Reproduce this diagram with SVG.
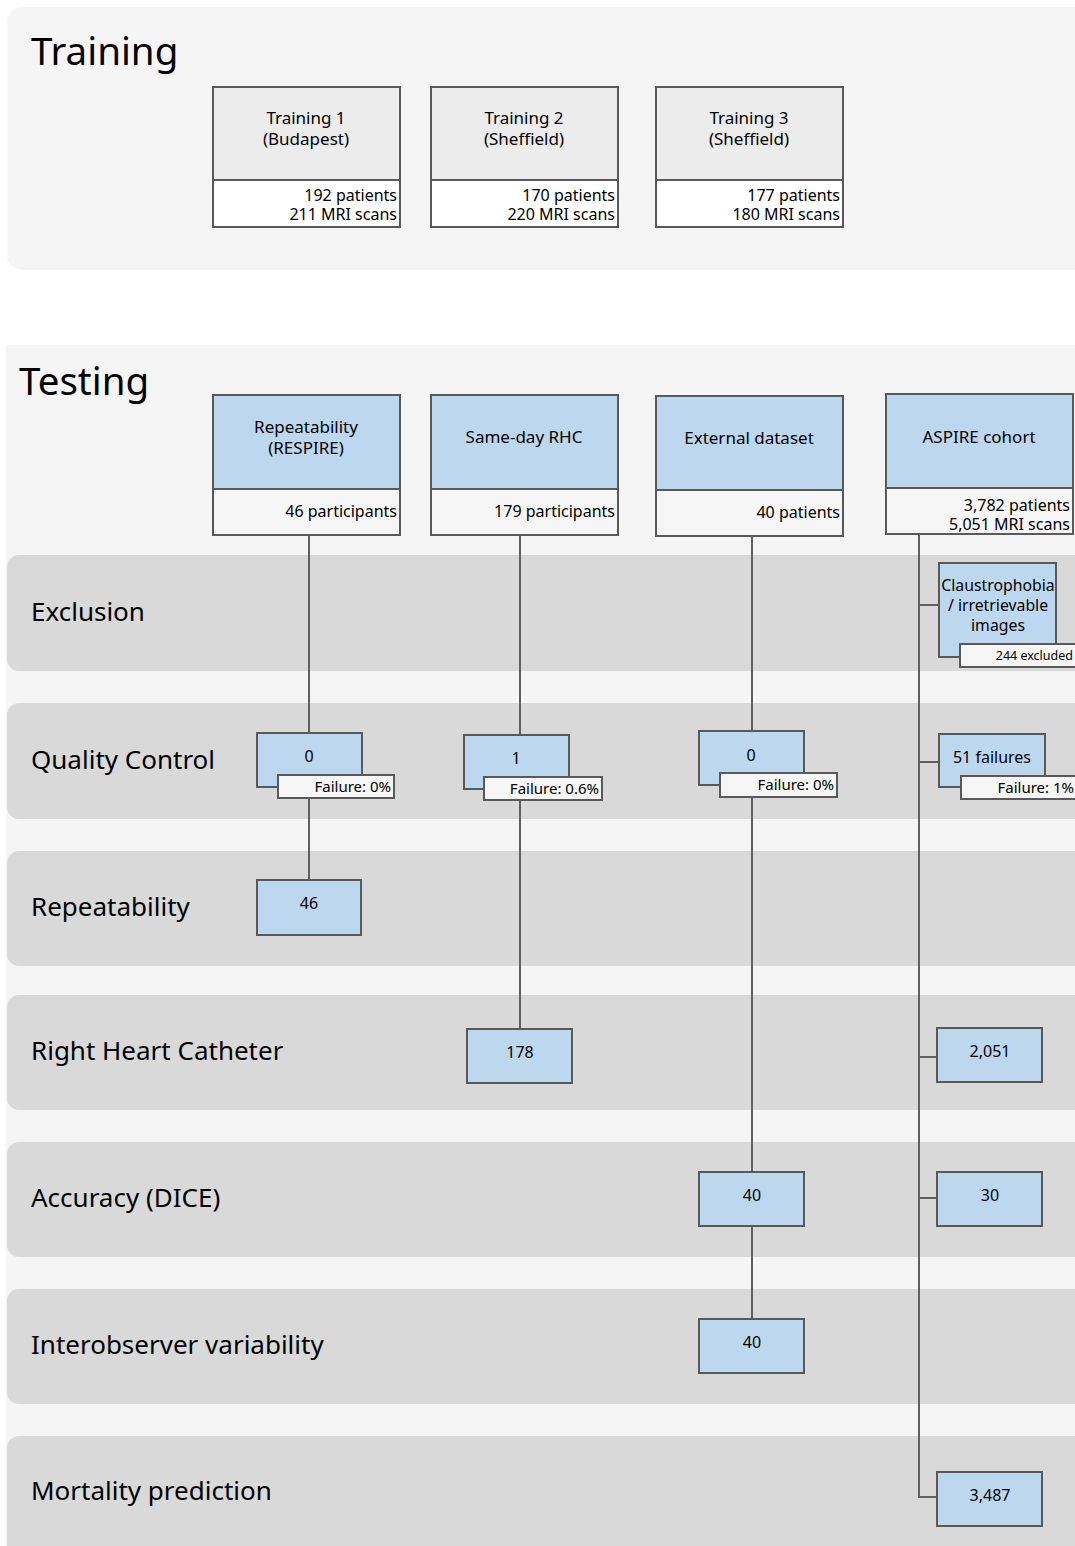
<svg xmlns="http://www.w3.org/2000/svg" width="1075" height="1546" viewBox="0 0 1075 1546">
<style>
text{font-family:"Noto Sans","Open Sans",sans-serif;fill:#000}
.panel{fill:#f5f5f5}
.band{fill:#d9d9d9}
.h1{font-size:38.5px}
.h2{font-size:26px}
.t17{font-size:17px}
.t16{font-size:16px}
.n16{font-size:16px}
.c16{font-size:15.8px}
.f15{font-size:15px}
.t13{font-size:12.5px}
.mid{text-anchor:middle}
.end{text-anchor:end}
.bx{stroke:#595959;stroke-width:2}
.grey{fill:#ececec}
.white{fill:#ffffff}
.light{fill:#f6f6f6}
.blue{fill:#bdd7ee}
.conn{fill:none;stroke:#606060;stroke-width:2}
</style>
<rect width="1075" height="1546" fill="#ffffff"/>
<g id="panels">
<rect class="panel" x="7" y="7" width="1090" height="263" rx="15"/>
<rect class="panel" x="6" y="345" width="1090" height="1220"/>
<rect class="band" x="7" y="555" width="1090" height="116" rx="12"/>
<rect class="band" x="7" y="703" width="1090" height="116" rx="12"/>
<rect class="band" x="7" y="851" width="1090" height="115" rx="12"/>
<rect class="band" x="7" y="995" width="1090" height="115" rx="12"/>
<rect class="band" x="7" y="1142" width="1090" height="115" rx="12"/>
<rect class="band" x="7" y="1289" width="1090" height="115" rx="12"/>
<rect class="band" x="7" y="1436" width="1090" height="130" rx="12"/>
</g>
<g id="labels">
<text class="h1" x="31" y="65">Training</text>
<text class="h1" x="19" y="395">Testing</text>
<text class="h2" x="31" y="621">Exclusion</text>
<text class="h2" x="31" y="769">Quality Control</text>
<text class="h2" x="31" y="916">Repeatability</text>
<text class="h2" x="31" y="1060">Right Heart Catheter</text>
<text class="h2" x="31" y="1207">Accuracy (DICE)</text>
<text class="h2" x="31" y="1354">Interobserver variability</text>
<text class="h2" x="31" y="1500">Mortality prediction</text>
</g>
<g id="connectors">
<path class="conn" d="M309 535V733M309 797V880"/>
<path class="conn" d="M520 535V735M520 800V1029"/>
<path class="conn" d="M752 536V731M752 797V1172M752 1226V1319"/>
<path class="conn" d="M919 534V1497H937M919 605H939M919 762H939M919 1057H937M919 1198H937"/>
</g>
<g id="training1">
<rect class="bx grey" x="213" y="87" width="187" height="93"/>
<rect class="bx white" x="213" y="180" width="187" height="47"/>
<text class="t17 mid" x="306" y="124">Training 1</text>
<text class="t17 mid" x="306" y="145">(Budapest)</text>
<text class="t16 end" x="397" y="201">192 patients</text>
<text class="t16 end" x="397" y="220">211 MRI scans</text>
</g>
<g id="training2">
<rect class="bx grey" x="431" y="87" width="187" height="93"/>
<rect class="bx white" x="431" y="180" width="187" height="47"/>
<text class="t17 mid" x="524" y="124">Training 2</text>
<text class="t17 mid" x="524" y="145">(Sheffield)</text>
<text class="t16 end" x="615" y="201">170 patients</text>
<text class="t16 end" x="615" y="220">220 MRI scans</text>
</g>
<g id="training3">
<rect class="bx grey" x="656" y="87" width="187" height="93"/>
<rect class="bx white" x="656" y="180" width="187" height="47"/>
<text class="t17 mid" x="749" y="124">Training 3</text>
<text class="t17 mid" x="749" y="145">(Sheffield)</text>
<text class="t16 end" x="840" y="201">177 patients</text>
<text class="t16 end" x="840" y="220">180 MRI scans</text>
</g>
<g id="respire">
<rect class="bx blue" x="213" y="395" width="187" height="94"/>
<rect class="bx light" x="213" y="489" width="187" height="46"/>
<text class="t17 mid" x="306" y="433">Repeatability</text>
<text class="t17 mid" x="306" y="454">(RESPIRE)</text>
<text class="t16 end" x="397" y="517">46 participants</text>
</g>
<g id="sameday">
<rect class="bx blue" x="431" y="395" width="187" height="94"/>
<rect class="bx light" x="431" y="489" width="187" height="46"/>
<text class="t17 mid" x="524" y="443">Same-day RHC</text>
<text class="t16 end" x="615" y="517">179 participants</text>
</g>
<g id="external">
<rect class="bx blue" x="656" y="396" width="187" height="94"/>
<rect class="bx light" x="656" y="490" width="187" height="46"/>
<text class="t17 mid" x="749" y="444">External dataset</text>
<text class="t16 end" x="840" y="518">40 patients</text>
</g>
<g id="aspire">
<rect class="bx blue" x="886" y="394" width="187" height="94"/>
<rect class="bx light" x="886" y="488" width="187" height="46"/>
<text class="t17 mid" x="979" y="443">ASPIRE cohort</text>
<text class="t16 end" x="1070" y="511">3,782 patients</text>
<text class="t16 end" x="1070" y="530">5,051 MRI scans</text>
</g>
<g id="exclusion-aspire">
<rect class="bx blue" x="939" y="563" width="117" height="94"/>
<text class="c16 mid" x="998" y="591">Claustrophobia</text>
<text class="c16 mid" x="998" y="611">/ irretrievable</text>
<text class="c16 mid" x="998" y="631">images</text>
<rect class="bx light" x="960" y="644" width="118" height="23"/>
<text class="t13 end" x="1073" y="660">244 excluded</text>
</g>
<g id="qc-respire">
<rect class="bx blue" x="257" y="733" width="105" height="54"/>
<text class="n16 mid" x="309" y="762">0</text>
<rect class="bx light" x="278" y="775" width="116" height="23"/>
<text class="f15 end" x="391" y="792">Failure: 0%</text>
</g>
<g id="qc-sameday">
<rect class="bx blue" x="464" y="735" width="105" height="54"/>
<text class="n16 mid" x="516" y="764">1</text>
<rect class="bx light" x="484" y="777" width="118" height="23"/>
<text class="f15 end" x="599" y="794">Failure: 0.6%</text>
</g>
<g id="qc-external">
<rect class="bx blue" x="699" y="731" width="105" height="54"/>
<text class="n16 mid" x="751" y="761">0</text>
<rect class="bx light" x="720" y="773" width="117" height="24"/>
<text class="f15 end" x="834" y="790">Failure: 0%</text>
</g>
<g id="qc-aspire">
<rect class="bx blue" x="939" y="734" width="106" height="53"/>
<text class="n16 mid" x="992" y="763">51 failures</text>
<rect class="bx light" x="961" y="776" width="118" height="23"/>
<text class="f15 end" x="1074" y="793">Failure: 1%</text>
</g>
<g id="rep-respire">
<rect class="bx blue" x="257" y="880" width="104" height="55"/>
<text class="n16 mid" x="309" y="909">46</text>
</g>
<g id="rhc-sameday">
<rect class="bx blue" x="467" y="1029" width="105" height="54"/>
<text class="n16 mid" x="520" y="1058">178</text>
</g>
<g id="rhc-aspire">
<rect class="bx blue" x="937" y="1028" width="105" height="54"/>
<text class="n16 mid" x="990" y="1057">2,051</text>
</g>
<g id="acc-external">
<rect class="bx blue" x="699" y="1172" width="105" height="54"/>
<text class="n16 mid" x="752" y="1201">40</text>
</g>
<g id="acc-aspire">
<rect class="bx blue" x="937" y="1172" width="105" height="54"/>
<text class="n16 mid" x="990" y="1201">30</text>
</g>
<g id="inter-external">
<rect class="bx blue" x="699" y="1319" width="105" height="54"/>
<text class="n16 mid" x="752" y="1348">40</text>
</g>
<g id="mort-aspire">
<rect class="bx blue" x="937" y="1472" width="105" height="54"/>
<text class="n16 mid" x="990" y="1501">3,487</text>
</g>
</svg>
